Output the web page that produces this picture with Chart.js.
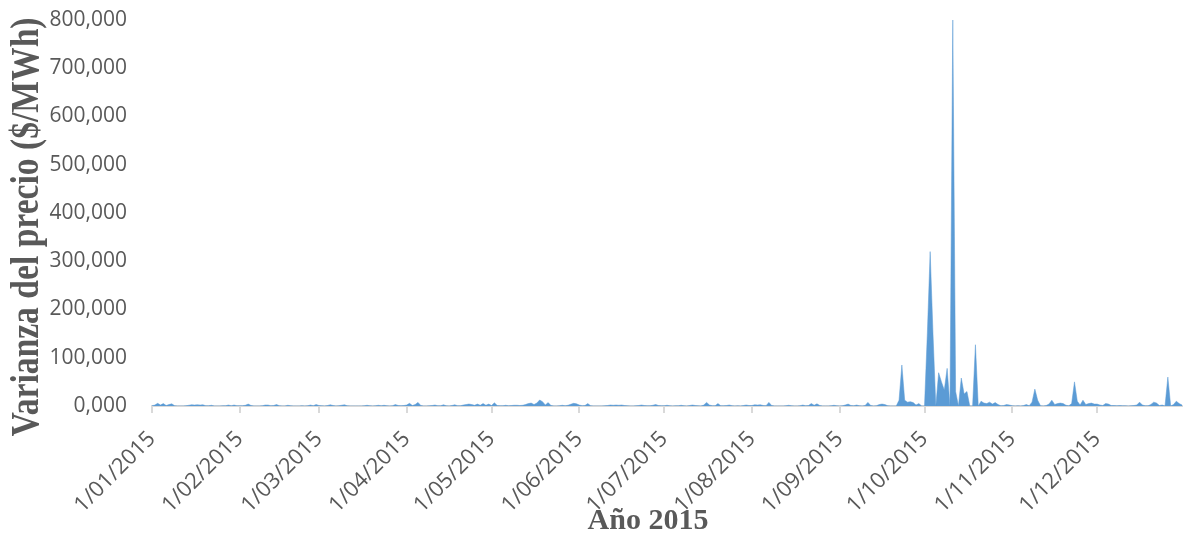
<!DOCTYPE html>
<html>
<head>
<meta charset="utf-8">
<script src="https://cdn.jsdelivr.net/npm/chart.js@4/dist/chart.umd.min.js"></script>
<style>
  html, body { margin: 0; padding: 0; background: #ffffff; }
  #wrap { width: 1184px; height: 538px; }
</style>
</head>
<body>
<div id="wrap"><canvas id="chart" width="1184" height="538"></canvas></div>
<script>
// Daily price variance for 2015, one array per month (day 1 .. last day)
const ene = [0.5,2,5.5,2,5,1,3,4.5,0.5,0,0,0,0.5,1.5,2.5,2,2.5,2,2.5,0.5,0.5,1.5,0,0,0,0.5,0.5,2,0.5,2,0.5];
const feb = [0.5,0.5,1.5,4,1,0,0,0,0.5,2,2,0.5,1,3,0.5,0,0,1.5,0.5,0,0,0,0.5,0,0.5,2,0.5,3];
const mar = [1,0.5,0,1,2.5,1,0,0.5,1.5,2.5,0.5,0,0,0,0,0,0.5,1.5,0.5,0,0.5,1.5,0.5,1.5,0.5,0,0.5,3,1,0.5,1];
const abr = [2,5.5,1,3,7.5,1,0,0,0.5,1,2,0.5,0.5,2.5,0.5,0,1,2.5,0.5,0.5,2,3,4,3,1.5,4,1.5,5,1.5,4];
const may = [1,6.5,1,0.5,0.5,1.5,0.5,1,1.5,1.5,1,1.5,3,5,6,3,6,12.5,9,2,7,1,0,0,0.5,1.5,0.5,1.5,3.5,5.5,4.5];
const jun = [2,0.5,1,5,0.5,0,0,0,0,0.5,1,2,1.5,2,1.5,2,1,0.5,0,0,0.5,1,2,1,0.5,0.5,1.5,3,1,0.5];
const jul = [0.5,1.5,0.5,0,0.5,0.5,1.5,0.5,0,1,2,1,0.5,0,2,7.5,2,0.5,0.5,5,0.5,0.5,1,2,0.5,0,0.5,0,1,2,1];
const ago = [1,2.5,2,2.5,1,0.5,7.5,1,0,0,0,0,0.5,1.5,0.5,0,0,0.5,2,0.5,1,5,1.5,4.5,1,0,0,0,0.5,1.5,0.5];
const sep = [0,0.5,2,4,1,0.5,2,0.5,0,1,7.5,1,0,0.5,3,4,3,0.5,0,0,0,12,85,12,8,9,7,2,5,0];
const oct = [0,150,320,150,0,69,50,33,78,0,800,30,0,58,25,30,0,0,127,0,10,6,5,8,4,7,3,0.5,1,3,2];
const nov = [0.5,0,0.5,0,1,3,0.5,8,35,12,0.5,0,1,4,12,3,5,6,5,1.5,0.5,5,50,10,2,12,3,5,6,4];
const dic = [4,2,1,5,4,1,1,0.5,1,0.5,0.5,0,0.5,1,2,8,2,0.5,0.5,3,8,6,1,2,0,60,0,3,10,5,2];

// First day of each month (day-of-year index) and its axis label
const monthStarts = [0, 31, 59, 90, 120, 151, 181, 212, 243, 273, 304, 334];
const monthTickLabels = ['1/01/2015','1/02/2015','1/03/2015','1/04/2015','1/05/2015','1/06/2015',
                         '1/07/2015','1/08/2015','1/09/2015','1/10/2015','1/11/2015','1/12/2015'];

const yTitle = 'Varianza del precio ($/MWh)';
const xTitle = 'Año 2015';

const daily = [].concat(ene, feb, mar, abr, may, jun, jul, ago, sep, oct, nov, dic);
const points = daily.map((v, i) => ({ x: i, y: v }));

const grey = '#595959';

// Axis titles in a serif face, the vertical one slightly condensed
const axisTitles = {
  id: 'axisTitles',
  afterDraw(chart) {
    const ctx = chart.ctx;
    ctx.save();
    ctx.fillStyle = grey;
    ctx.textAlign = 'center';
    ctx.textBaseline = 'alphabetic';
    ctx.font = 'bold 30px "Liberation Serif", serif';
    ctx.fillText(xTitle, 648, 529);
    ctx.translate(38, 227);
    ctx.rotate(-Math.PI / 2);
    ctx.scale(0.84, 1);
    ctx.font = 'bold 40px "Liberation Serif", serif';
    ctx.fillText(yTitle, 0, 0);
    ctx.restore();
  }
};

new Chart(document.getElementById('chart'), {
  type: 'line',
  data: {
    datasets: [{
      data: points,
      fill: 'origin',
      backgroundColor: '#5B9BD5',
      borderColor: '#5B9BD5',
      borderWidth: 0.5,
      pointRadius: 0,
      tension: 0
    }]
  },
  options: {
    responsive: false,
    animation: false,
    devicePixelRatio: 1,
    layout: { padding: { top: 20, right: 2, left: 0, bottom: 0 } },
    plugins: { legend: { display: false }, tooltip: { enabled: false } },
    scales: {
      x: {
        type: 'linear',
        min: 0,
        max: 364,
        afterBuildTicks(scale) {
          scale.ticks = monthStarts.map(v => ({ value: v }));
        },
        afterFit(scale) {
          scale.height = 132;
          scale.paddingLeft = 0;
          scale.paddingRight = 0;
        },
        ticks: {
          autoSkip: false,
          minRotation: 45,
          maxRotation: 45,
          padding: 13,
          color: grey,
          font: { family: '"Open Sans", sans-serif', size: 22 },
          callback(value) {
            const i = monthStarts.indexOf(value);
            return i >= 0 ? monthTickLabels[i] : '';
          }
        },
        grid: {
          display: true,
          drawOnChartArea: false,
          drawTicks: true,
          tickLength: 7,
          color: '#d9d9d9',
          lineWidth: 2
        },
        border: { display: true, color: '#d9d9d9', width: 2 }
      },
      y: {
        min: 0,
        max: 800,
        afterFit(scale) {
          scale.width = 152;
          scale.paddingTop = 0;
          scale.paddingBottom = 0;
        },
        ticks: {
          stepSize: 100,
          padding: 17,
          color: grey,
          font: { family: '"Open Sans", sans-serif', size: 21 },
          callback(value) { return value.toFixed(3).replace('.', ','); }
        },
        grid: { display: false },
        border: { display: false }
      }
    }
  },
  plugins: [axisTitles]
});
</script>
</body>
</html>
